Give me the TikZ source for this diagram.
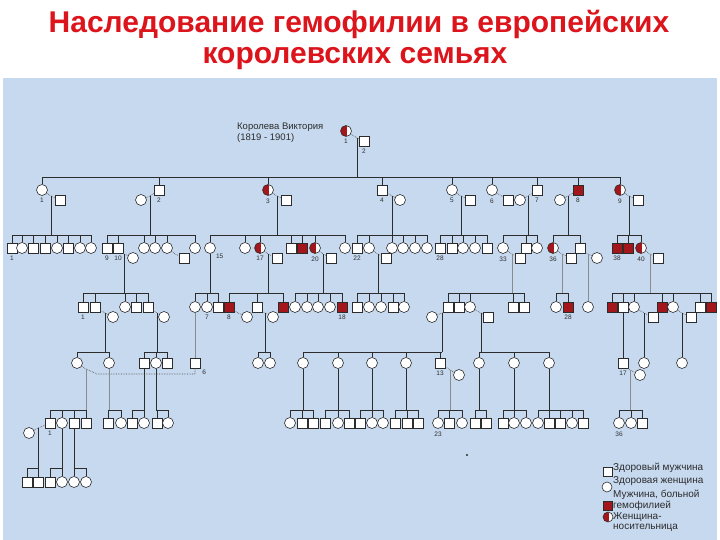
\documentclass[tikz,border=0pt]{standalone}
\usepackage{fontspec}
\setmainfont{Liberation Sans}
\begin{document}
\begin{tikzpicture}[x=1pt,y=-1pt]
\definecolor{tred}{HTML}{DC141B}\definecolor{hred}{HTML}{A3161B}
\definecolor{sky}{HTML}{C7D9EF}\definecolor{edge}{HTML}{2C2C2C}
\tikzset{male/.style={draw=edge,fill=white,line width=.6pt,minimum size=10pt,inner sep=0pt},
 fem/.style={male,circle,minimum size=11pt},
 sick/.style={male,fill=hred},
 carr/.style={fem,path picture={\fill[hred] (path picture bounding box.south west) rectangle ([xshift=1pt]path picture bounding box.north);}},
 kin/.style={draw=edge,line width=.7pt},
 faint/.style={draw=edge!55,line width=.6pt},
 marr/.style={draw=edge!85,line width=.65pt,densely dotted},
 txt/.style={font=\fontsize{10}{10.5}\selectfont,text=edge,anchor=west,align=left,inner sep=0pt},
 every label/.style={font=\fontsize{6.5}{7}\selectfont,text=edge,inner sep=0pt},
 label distance=2.5pt}
\useasboundingbox (0,0) rectangle (720,540);
\fill[sky] (3,78) rectangle (717,540);
\node[font=\fontsize{30}{34}\selectfont\bfseries,text=tred,anchor=base] (title1) at (359,33) {Наследование гемофилии в европейских};
\node[font=\fontsize{30}{34}\selectfont\bfseries,text=tred,anchor=base] (title2) at (355,64) {королевских семьях};
% generation I
\node[txt,font=\fontsize{9.5}{11}\selectfont] (vname) at (237,133) {Королева Виктория\\(1819 - 1901)};
\node[carr,label=below:1] (vic) at (346,131) {};
\node[male,label=below:2] (alb) at (364,141) {};
\coordinate (m0) at (357,138); \coordinate (b0) at (357,177);
\draw[marr] (vic) -- (m0) -- (alb);
\draw[kin] (m0) -- (b0);
% generation II
\node[fem,label=below:1] (c1) at (42,190) {}; \node[male] (s1) at (60,200) {};
\node[male,label=below:2] (c2) at (159,190) {}; \node[fem] (s2) at (141,200) {};
\node[carr,label=below:3] (c3) at (268,190) {}; \node[male] (s3) at (286,200) {};
\node[male,label=below:4] (c4) at (382,190) {}; \node[fem] (s4) at (400,200) {};
\node[fem,label=below:5] (c5) at (452,190) {}; \node[male] (s5) at (470,200) {};
\node[fem,label=below:6] (c6) at (492,190) {}; \node[male] (s6) at (508,200) {};
\node[male,label=below:7] (c7) at (537,190) {}; \node[fem] (s7) at (520,200) {};
\node[sick,label=below:8] (c8) at (578,190) {}; \node[fem] (s8) at (560,200) {};
\node[carr,label=below:9] (c9) at (620,190) {}; \node[male] (s9) at (638,200) {};
\foreach \i in {1,...,9} \draw[kin] (c\i.north) |- (b0);
\foreach \i/\x in {1/51,2/150,3/277,4/392,5/461,7/528,8/568,9/629} {
  \coordinate (m\i) at (\x,196); \coordinate (b\i) at (\x,235);
  \draw[kin] (m\i) -- (b\i);}
\foreach \i in {1,2,3,4,5,8,9} \draw[marr] (c\i) -- (m\i) -- (s\i);
\draw[marr] (c6) -- (s6);
\draw[marr] (s7) -- (m7) -- (c7);
% generation III
\node[male,label=below:1] (d1a) at (12,248) {}; \node[fem] (d1b) at (22,248) {};
\node[male] (d1c) at (33,248) {}; \node[male] (d1d) at (45,248) {};
\node[fem] (d1e) at (57,248) {}; \node[male] (d1f) at (68,248) {};
\node[fem] (d1g) at (80,248) {}; \node[fem] (d1h) at (91,248) {};
\node[male,label=below:9] (d2a) at (107,248) {}; \node[male,label=below:10] (d2b) at (118,248) {};
\node[fem] (d2bs) at (133,258) {}; \node[fem] (d2c) at (144,248) {};
\node[fem] (d2d) at (155,248) {}; \node[fem] (d2e) at (167,248) {};
\node[male] (d2es) at (184,258) {}; \node[fem] (d2f) at (195,248) {};
\node[fem,label=below right:15] (d3a) at (210,248) {}; \node[fem] (d3b) at (245,248) {};
\node[carr,label=below:17] (d3c) at (260,248) {}; \node[male] (d3cs) at (277,258) {};
\node[male] (d3d) at (291,248) {}; \node[sick] (d3e) at (302,248) {};
\node[carr,label=below:20] (d3f) at (315,248) {}; \node[male] (d3fs) at (331,258) {};
\node[fem] (d3g) at (345,248) {};
\node[male,label=below:22] (d4a) at (357,248) {}; \node[fem] (d4b) at (369,248) {};
\node[male] (d4bs) at (386,258) {}; \node[fem] (d4c) at (392,248) {};
\node[fem] (d4d) at (403,248) {}; \node[fem] (d4e) at (415,248) {};
\node[fem] (d4f) at (427,248) {};
\node[male,label=below:28] (d5a) at (440,248) {}; \node[male] (d5b) at (452,248) {};
\node[fem] (d5c) at (463,248) {}; \node[fem] (d5d) at (475,248) {};
\node[male] (d5e) at (487,248) {};
\node[fem,label=below:33] (d7a) at (503,248) {}; \node[male] (d7as) at (520,258) {};
\node[male] (d7b) at (526,248) {}; \node[fem] (d7c) at (537,248) {};
\node[carr,label=below:36] (d8a) at (553,248) {}; \node[male] (d8as) at (571,258) {};
\node[male] (d8b) at (580,248) {}; \node[fem] (d8bs) at (597,258) {};
\node[sick,label=below:38] (d9a) at (617,248) {}; \node[sick] (d9b) at (628,248) {};
\node[carr,label=below:40] (d9c) at (641,248) {}; \node[male] (d9cs) at (658,258) {};
\foreach \c in {d1a,d1b,d1c,d1d,d1e,d1f,d1g,d1h} \draw[kin] (\c.north) |- (b1);
\foreach \c in {d2a,d2b,d2c,d2d,d2e,d2f} \draw[kin] (\c.north) |- (b2);
\foreach \c in {d3a,d3b,d3c,d3d,d3e,d3f,d3g} \draw[kin] (\c.north) |- (b3);
\foreach \c in {d4a,d4b,d4c,d4d,d4e,d4f} \draw[kin] (\c.north) |- (b4);
\foreach \c in {d5a,d5b,d5c,d5d,d5e} \draw[kin] (\c.north) |- (b5);
\foreach \c in {d7a,d7b,d7c} \draw[kin] (\c.north) |- (b7);
\foreach \c in {d8a,d8b} \draw[kin] (\c.north) |- (b8);
\foreach \c in {d9a,d9b,d9c} \draw[kin] (\c.north) |- (b9);
\foreach \n/\a/\s/\x in {10/d2b/d2bs/124,2e/d2e/d2es/175,17/d3c/d3cs/268,20/d3f/d3fs/323,
  22/d4b/d4bs/378,33/d7a/d7as/512,36/d8a/d8as/562,37/d8b/d8bs/588,40/d9c/d9cs/650} {
  \coordinate (n\n) at (\x,254); \draw[marr] (\a) -- (n\n) -- (\s);}
\foreach \n/\x in {10/124,15/210,17/268,20/323,22/378,33/512,36/562,40/650} \coordinate (e\n) at (\x,293);
\draw[kin] (n10) -- (e10); \draw[kin] (d3a) -- (e15);
\draw[kin] (n17) -- (e17); \draw[kin] (n20) -- (e20); \draw[kin] (n22) -- (e22);
\draw[faint] (n33) -- (e33); \draw[faint] (n36) -- (e36); \draw[faint] (n40) -- (e40);
% generation IV
\node[male,label=below:1] (g1a) at (83,307) {}; \node[male] (g1b) at (95,307) {};
\node[fem] (g1bs) at (113,317) {}; \node[fem] (g1c) at (125,307) {};
\node[male] (g1d) at (136,307) {}; \node[male] (g1e) at (148,307) {};
\node[fem] (g1es) at (164,317) {};
\node[fem] (g2a) at (195,307) {}; \node[fem,label=below:7] (g2b) at (207,307) {};
\node[male] (g2c) at (218,307) {};
\node[sick,label=below:8] (g3a) at (229,307) {}; \node[fem] (g3as) at (247,317) {};
\node[male] (g3b) at (257,307) {}; \node[fem] (g3bs) at (273,317) {};
\node[sick] (g3c) at (283,307) {};
\node[fem] (g4a) at (295,307) {}; \node[fem] (g4b) at (307,307) {};
\node[fem] (g4c) at (318,307) {}; \node[fem] (g4d) at (330,307) {};
\node[sick,label=below:18] (g4e) at (342,307) {};
\node[male] (g5a) at (357,307) {}; \node[fem] (g5b) at (369,307) {};
\node[fem] (g5c) at (381,307) {}; \node[male] (g5d) at (393,307) {};
\node[fem] (g5e) at (404,307) {};
\node[fem] (g6as) at (432,317) {}; \node[male] (g6a) at (448,307) {};
\node[male] (g6b) at (459,307) {}; \node[fem] (g6c) at (470,307) {};
\node[male] (g6cs) at (488,317) {}; \node[male] (g6d) at (513,307) {};
\node[male] (g6e) at (524,307) {};
\node[fem] (g7a) at (556,307) {}; \node[sick,label=below:28] (g7b) at (568,307) {};
\node[fem] (g8) at (588,307) {};
\node[sick] (g9a) at (612,307) {}; \node[male] (g9b) at (623,307) {};
\node[fem] (g9c) at (634,307) {}; \node[male] (g9cs) at (653,317) {};
\node[sick] (g9d) at (662,307) {}; \node[fem] (g9e) at (673,307) {};
\node[male] (g9es) at (691,317) {}; \node[male] (g9f) at (700,307) {};
\node[sick] (g9g) at (711,307) {};
\foreach \c in {g1a,g1b,g1c,g1d,g1e} \draw[kin] (\c.north) |- (e10);
\foreach \c in {g2a,g2b,g2c} \draw[kin] (\c.north) |- (e15);
\foreach \c in {g3a,g3b,g3c} \draw[kin] (\c.north) |- (e17);
\foreach \c in {g4a,g4b,g4c,g4d,g4e} \draw[kin] (\c.north) |- (e20);
\foreach \c in {g5a,g5b,g5c,g5d,g5e} \draw[kin] (\c.north) |- (e22);
\foreach \c in {g6a,g6b,g6c,g6d,g6e} \draw[kin] (\c.north) |- (e33);
\foreach \c in {g7a,g7b} \draw[kin] (\c.north) |- (e36);
\foreach \c in {g9a,g9b,g9c,g9d,g9e,g9f,g9g} \draw[kin] (\c.north) |- (e40);
\draw[faint] (n37) -- (g8);
\foreach \n/\a/\s/\x in {1/g1b/g1bs/105,2/g1e/g1es/157,3/g3a/g3as/238,4/g3b/g3bs/265,
  5/g6as/g6a/442,6/g6c/g6cs/481,7/g9c/g9cs/644,8/g9e/g9es/682} {
  \coordinate (p\n) at (\x,313); \draw[marr] (\a) -- (p\n) -- (\s);}
\foreach \n in {1,2,4,5,6} \coordinate (q\n) at (p\n |- 0,352);
\foreach \n in {1,2,4,5,6} \draw[kin] (p\n) -- (q\n);
% generation V
\node[fem] (h1a) at (77,363) {}; \node[fem] (h1b) at (109,363) {};
\node[male] (h2a) at (144,363) {}; \node[fem] (h2b) at (156,363) {};
\node[male] (h2c) at (167,363) {};
\node[male,label=below right:6] (h3) at (195,363) {};
\node[fem] (h4a) at (258,363) {}; \node[fem] (h4b) at (270,363) {};
\node[fem] (h5a) at (303,363) {}; \node[fem] (h5b) at (338,363) {};
\node[fem] (h5c) at (372,363) {}; \node[fem] (h5d) at (406,363) {};
\node[male,label=below:13] (h5e) at (440,363) {}; \node[fem] (h5es) at (459,375) {};
\node[fem] (h6a) at (479,363) {}; \node[fem] (h6b) at (514,363) {};
\node[fem] (h6c) at (549,363) {};
\node[male,label=below:17] (h7) at (623,363) {}; \node[fem] (h7s) at (640,375) {};
\node[fem] (h8) at (644,363) {}; \node[fem] (h9) at (682,363) {};
\foreach \c in {h1a,h1b} \draw[kin] (\c.north) |- (q1);
\foreach \c in {h2a,h2b,h2c} \draw[kin] (\c.north) |- (q2);
\foreach \c in {h4a,h4b} \draw[kin] (\c.north) |- (q4);
\foreach \c in {h5a,h5b,h5c,h5d,h5e} \draw[kin] (\c.north) |- (q5);
\foreach \c in {h6a,h6b,h6c} \draw[kin] (\c.north) |- (q6);
\draw[faint] (g2a) -- (h3); \draw[kin] (g9b) -- (h7);
\draw[kin] (p7) -- (h8); \draw[kin] (p8) -- (h9);
\coordinate (r6) at (86,369); \coordinate (r6b) at (97,374);
\coordinate (r13) at (450,370); \coordinate (r17) at (630,370);
\draw[marr] (h1a) -- (r6) -- (r6b) -| (h3);
\draw[marr] (h5e) -- (r13) -- (h5es);
\draw[marr] (h7) -- (r17) -- (h7s);
% generation VI
\foreach \n/\x in {1/86,2/109,3/144,4/156,5/303,6/338,7/372,8/406,9/450,10/479,11/514,12/549,13/630}
  \coordinate (t\n) at (\x,410);
\draw[faint] (r6) -- (t1); \draw[faint] (h1b) -- (t2); \draw[kin] (h2a) -- (t3);
\draw[kin] (h2b) -- (t4); \draw[kin] (h5a) -- (t5); \draw[kin] (h5b) -- (t6);
\draw[kin] (h5c) -- (t7); \draw[kin] (h5d) -- (t8); \draw[faint] (r13) -- (t9);
\draw[kin] (h6a) -- (t10); \draw[kin] (h6b) -- (t11); \draw[kin] (h6c) -- (t12);
\draw[faint] (r17) -- (t13);
\node[male,label=below:1] (k1a) at (50,423) {}; \node[fem] (k1as) at (29,433) {};
\node[fem] (k1b) at (62,423) {}; \node[male] (k1c) at (74,423) {};
\node[male] (k1d) at (86,423) {};
\node[male] (k2a) at (108,423) {}; \node[fem] (k2b) at (121,423) {};
\node[male] (k3a) at (132,423) {}; \node[fem] (k3b) at (144,423) {};
\node[male] (k4a) at (157,423) {}; \node[fem] (k4b) at (168,423) {};
\node[fem] (k5a) at (290,423) {}; \node[male] (k5b) at (302,423) {};
\node[male] (k5c) at (313,423) {};
\node[male] (k6a) at (325,423) {}; \node[fem] (k6b) at (338,423) {};
\node[male] (k6c) at (349,423) {};
\node[male] (k7a) at (360,423) {}; \node[fem] (k7b) at (372,423) {};
\node[fem] (k7c) at (383,423) {};
\node[male] (k8a) at (395,423) {}; \node[male] (k8b) at (407,423) {};
\node[male] (k8c) at (418,423) {};
\node[fem,label=below:23] (k9a) at (438,423) {}; \node[male] (k9b) at (449,423) {};
\node[fem] (k9c) at (462,423) {};
\node[male] (k10a) at (475,423) {}; \node[male] (k10b) at (486,423) {};
\node[male] (k11a) at (503,423) {}; \node[fem] (k11b) at (514,423) {};
\node[fem] (k11c) at (526,423) {};
\node[fem] (k12a) at (538,423) {}; \node[male] (k12b) at (549,423) {};
\node[male] (k12c) at (560,423) {}; \node[fem] (k12d) at (572,423) {};
\node[male] (k12e) at (583,423) {};
\node[fem,label=below:36] (k13a) at (619,423) {}; \node[fem] (k13b) at (631,423) {};
\node[male] (k13c) at (642,423) {};
\foreach \c in {k1a,k1b,k1c,k1d} \draw[kin] (\c.north) |- (t1);
\foreach \c in {k2a,k2b} \draw[kin] (\c.north) |- (t2);
\foreach \c in {k3a,k3b} \draw[kin] (\c.north) |- (t3);
\foreach \c in {k4a,k4b} \draw[kin] (\c.north) |- (t4);
\foreach \c in {k5a,k5b,k5c} \draw[kin] (\c.north) |- (t5);
\foreach \c in {k6a,k6b,k6c} \draw[kin] (\c.north) |- (t6);
\foreach \c in {k7a,k7b,k7c} \draw[kin] (\c.north) |- (t7);
\foreach \c in {k8a,k8b,k8c} \draw[kin] (\c.north) |- (t8);
\foreach \c in {k9a,k9b,k9c} \draw[kin] (\c.north) |- (t9);
\foreach \c in {k10a,k10b} \draw[kin] (\c.north) |- (t10);
\foreach \c in {k11a,k11b,k11c} \draw[kin] (\c.north) |- (t11);
\foreach \c in {k12a,k12b,k12c,k12d,k12e} \draw[kin] (\c.north) |- (t12);
\foreach \c in {k13a,k13b,k13c} \draw[kin] (\c.north) |- (t13);
% generation VII
\coordinate (u1) at (38,428);
\draw[marr] (k1as) -- (u1) -- (k1a);
\coordinate (w1) at (38,468); \coordinate (w2) at (62,468); \coordinate (w3) at (74,468);
\draw[kin] (u1) -- (w1); \draw[kin] (k1b) -- (w2); \draw[kin] (k1c) -- (w3);
\node[male] (l1a) at (27,482) {}; \node[male] (l1b) at (38,482) {};
\node[male] (l2a) at (50,482) {}; \node[fem] (l2b) at (62,482) {};
\node[fem] (l3a) at (74,482) {}; \node[fem] (l3b) at (86,482) {};
\foreach \c in {l1a,l1b} \draw[kin] (\c.north) |- (w1);
\foreach \c in {l2a,l2b} \draw[kin] (\c.north) |- (w2);
\foreach \c in {l3a,l3b} \draw[kin] (\c.north) |- (w3);
\fill[edge] (467,455) circle (1.2pt);
% legend
\node[male,minimum size=9pt] (lg1) at (608,472) {};
\node[txt] (lt1) at (613,468) {Здоровый мужчина};
\node[fem,minimum size=10pt] (lg2) at (607,487) {};
\node[txt] (lt2) at (613,481) {Здоровая женщина};
\node[sick,minimum size=9pt] (lg3) at (608,506) {};
\node[txt] (lt3) at (613,500.5) {Мужчина, больной\\гемофилией};
\node[carr,minimum size=10pt] (lg4) at (608,517) {};
\node[txt] (lt4) at (613,522) {Женщина-\\носительница};
\end{tikzpicture}
\end{document}
